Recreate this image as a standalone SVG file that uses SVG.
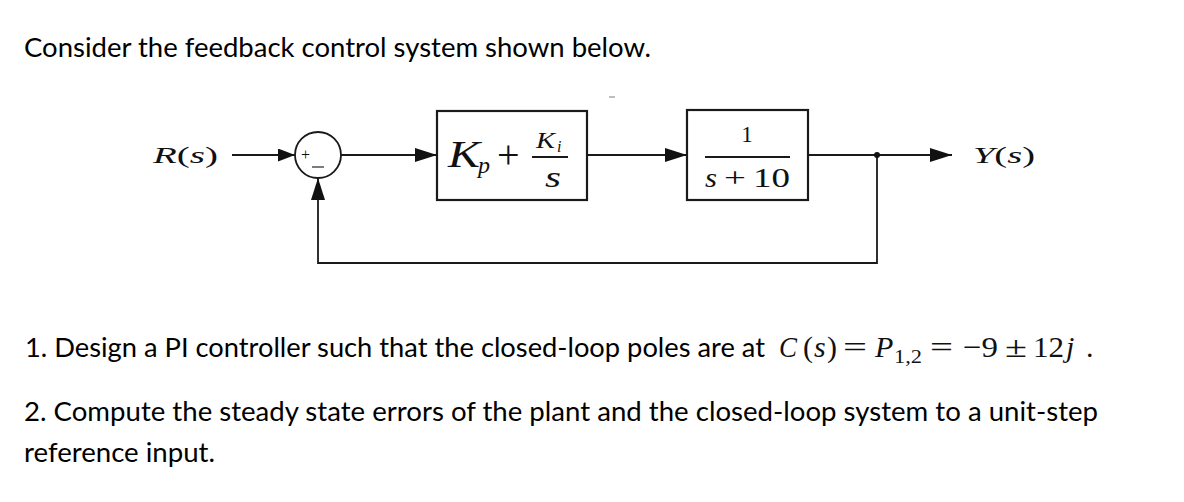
<svg xmlns="http://www.w3.org/2000/svg" width="1184" height="502" viewBox="0 0 1184 502">
<defs>
<style>
.t{font-family:Lato,"Liberation Sans",sans-serif;font-size:27.5px;fill:#000}
.m{font-family:"Liberation Serif","DejaVu Serif",serif;fill:#111}
.i{font-style:italic}
.ln{stroke:#1a1a1a;stroke-width:1.8;fill:none}
.box{stroke:#1a1a1a;stroke-width:2.2;fill:#fff}
</style>
<marker id="arr" markerUnits="userSpaceOnUse" markerWidth="22" markerHeight="14" refX="22" refY="7" orient="auto">
<path d="M0,0 L22,7 L0,14 z" fill="#111"/>
</marker>
<marker id="arrS" markerUnits="userSpaceOnUse" markerWidth="17" markerHeight="13" refX="17" refY="6.5" orient="auto">
<path d="M0,0 L17,6.5 L0,13 z" fill="#111"/>
</marker>
</defs>
<rect width="1184" height="502" fill="#fff"/>

<text class="t" x="24" y="57" textLength="627" lengthAdjust="spacingAndGlyphs">Consider the feedback control system shown below.</text>

<g id="connectors">
<line class="ln" x1="232" y1="155" x2="295" y2="155" marker-end="url(#arrS)"/>
<line class="ln" x1="341" y1="155" x2="437" y2="155" marker-end="url(#arr)"/>
<line class="ln" x1="587" y1="155" x2="687" y2="155" marker-end="url(#arr)"/>
<line class="ln" x1="808" y1="155" x2="952" y2="155" marker-end="url(#arr)"/>
<polyline class="ln" points="877,155 877,263 318,263 318,178" marker-end="url(#arr)"/>
<circle cx="877" cy="155" r="3" fill="#111"/>
<line x1="609" y1="97" x2="615" y2="97" stroke="#aaa" stroke-width="1.5"/>
</g>

<g id="R">
<text class="m" x="153" y="163" font-size="23" textLength="65" lengthAdjust="spacingAndGlyphs"><tspan class="i">R</tspan>(<tspan class="i">s</tspan>)</text>
</g>

<g id="sum">
<circle cx="318" cy="155" r="23" fill="#fff" stroke="#1a1a1a" stroke-width="1.8"/>
<text class="m" x="301" y="160" font-size="16" fill="#444">+</text>
<line x1="312" y1="167" x2="324" y2="167" stroke="#444" stroke-width="1.4"/>
</g>

<g id="controller">
<rect class="box" x="437" y="111" width="150" height="89"/>
<text class="m i" x="448" y="167" font-size="38" textLength="32" lengthAdjust="spacingAndGlyphs">K</text>
<text class="m i" x="478" y="173" font-size="24">p</text>
<text class="m" x="497" y="168" font-size="40">+</text>
<text class="m i" x="536" y="148" font-size="24" textLength="19" lengthAdjust="spacingAndGlyphs">K</text>
<text class="m i" x="557" y="152" font-size="16">i</text>
<line x1="532" y1="157" x2="568" y2="157" stroke="#1a1a1a" stroke-width="2"/>
<text class="m i" x="545" y="187" font-size="30" textLength="16" lengthAdjust="spacingAndGlyphs">s</text>
</g>

<g id="plant">
<rect class="box" x="687" y="110" width="121" height="90"/>
<text class="m" x="747" y="142" font-size="23" text-anchor="middle">1</text>
<line x1="705" y1="157" x2="790" y2="157" stroke="#1a1a1a" stroke-width="1.8"/>
<text class="m i" x="705" y="187" font-size="27" textLength="12" lengthAdjust="spacingAndGlyphs">s</text>
<text class="m" x="724" y="187" font-size="28" textLength="22" lengthAdjust="spacingAndGlyphs">+</text>
<text class="m" x="753" y="187" font-size="27" textLength="37" lengthAdjust="spacingAndGlyphs">10</text>
</g>

<g id="Y">
<text class="m" x="973" y="163" font-size="23" textLength="62" lengthAdjust="spacingAndGlyphs"><tspan class="i">Y</tspan>(<tspan class="i">s</tspan>)</text>
</g>

<text class="t" x="25" y="357" textLength="740" lengthAdjust="spacingAndGlyphs">1. Design a PI controller such that the closed-loop poles are at</text>
<g class="m" font-size="30">
<text class="i" x="779" y="357" textLength="18" lengthAdjust="spacingAndGlyphs">C</text>
<text x="803" y="357">(</text>
<text class="i" x="814" y="357">s</text>
<text x="827" y="357">)</text>
<text x="843" y="357" textLength="24" lengthAdjust="spacingAndGlyphs">=</text>
<text class="i" x="875" y="357">P</text>
<text x="894" y="363" font-size="19" textLength="28" lengthAdjust="spacingAndGlyphs">1,2</text>
<text x="930" y="357" textLength="23" lengthAdjust="spacingAndGlyphs">=</text>
<text x="963" y="357" textLength="35" lengthAdjust="spacingAndGlyphs">−9</text>
<text x="1005" y="357" textLength="22" lengthAdjust="spacingAndGlyphs">±</text>
<text x="1033" y="357" textLength="31" lengthAdjust="spacingAndGlyphs">12</text>
<text class="i" x="1066" y="357">j</text>
<text x="1086" y="357">.</text>
</g>

<text class="t" x="24" y="421" textLength="1074" lengthAdjust="spacingAndGlyphs">2. Compute the steady state errors of the plant and the closed-loop system to a unit-step</text>
<text class="t" x="24" y="462" textLength="191" lengthAdjust="spacingAndGlyphs">reference input.</text>
</svg>
